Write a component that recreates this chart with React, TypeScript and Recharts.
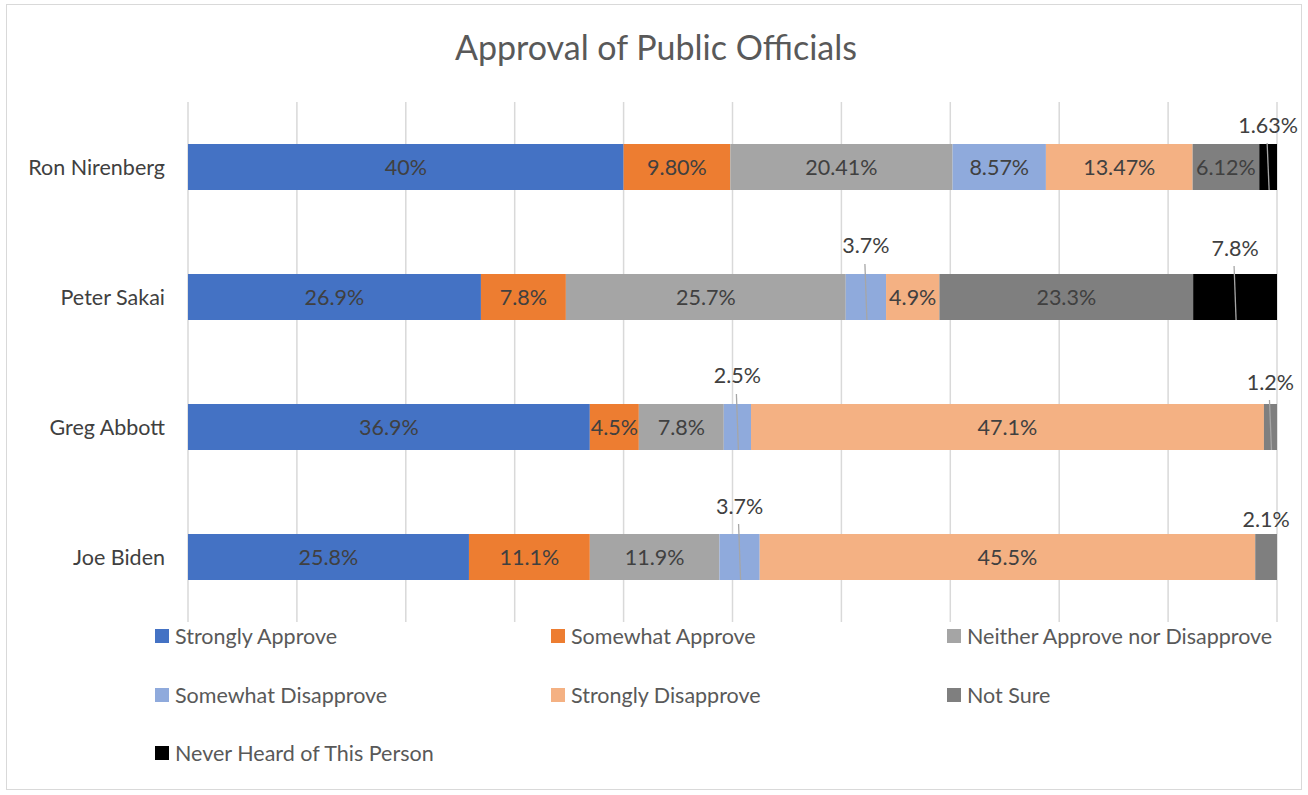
import { BarChart, Bar, XAxis, YAxis, CartesianGrid, LabelList } from 'recharts'

const categories = ['Ron Nirenberg', 'Peter Sakai', 'Greg Abbott', 'Joe Biden']

// values kept as strings so the label format of the source is preserved
const stronglyApprove = ['40', '26.9', '36.9', '25.8']
const somewhatApprove = ['9.80', '7.8', '4.5', '11.1']
const neitherApprove = ['20.41', '25.7', '7.8', '11.9']
const somewhatDisapprove = ['8.57', '3.7', '2.5', '3.7']
const stronglyDisapprove = ['13.47', '4.9', '47.1', '45.5']
const notSure = ['6.12', '23.3', '1.2', '2.1']
const neverHeard = ['1.63', '7.8', '', '']

const series = [
  { key: 's0', name: 'Strongly Approve', values: stronglyApprove, color: '#4472C4' },
  { key: 's1', name: 'Somewhat Approve', values: somewhatApprove, color: '#ED7D31' },
  { key: 's2', name: 'Neither Approve nor Disapprove', values: neitherApprove, color: '#A5A5A5' },
  { key: 's3', name: 'Somewhat Disapprove', values: somewhatDisapprove, color: '#8FAADC' },
  { key: 's4', name: 'Strongly Disapprove', values: stronglyDisapprove, color: '#F4B183' },
  { key: 's5', name: 'Not Sure', values: notSure, color: '#7F7F7F' },
  { key: 's6', name: 'Never Heard of This Person', values: neverHeard, color: '#000000' },
]

// labels that sit above the bar with a leader line: "categoryIndex|seriesKey" -> lift above bar top
const callouts: Record<string, number> = {
  '0|s6': 19,
  '1|s3': 29,
  '1|s6': 26,
  '2|s3': 29,
  '2|s5': 22,
  '3|s3': 28,
  '3|s5': 15,
}

const data = categories.map((name, i) => {
  const row: Record<string, string | number> = { name }
  series.forEach(s => {
    const v = s.values[i]
    row[s.key] = v === '' ? 0 : Number(v)
    row[s.key + 'Label'] = v === '' ? '' : v + '%'
  })
  return row
})

const FONT = 'Lato, "Open Sans", sans-serif'
const FS = 21.5

function makeLabel(seriesKey: string) {
  return (props: any) => {
    const vb = props.viewBox ?? props
    const x = Number(vb.x ?? props.x)
    const y = Number(vb.y ?? props.y)
    const w = Number(vb.width ?? props.width)
    const h = Number(vb.height ?? props.height)
    const { value, index } = props
    if (!value) return null
    const cx = x + w / 2
    const off = callouts[`${index}|${seriesKey}`]
    if (off !== undefined) {
      const ty = y - off
      return (
        <g>
          {off >= 18 && (
            <line x1={cx - 1} y1={Math.max(ty + 18, y - 10)} x2={cx + 1} y2={y + h} stroke="#A6A6A6" strokeWidth={1.3} />
          )}
          <text x={cx} y={ty} textAnchor="middle" dominantBaseline="central" fill="#404040" fontSize={FS} fontFamily={FONT}>
            {value}
          </text>
        </g>
      )
    }
    return (
      <text x={cx} y={y + h / 2} textAnchor="middle" dominantBaseline="central" fill="#404040" fontSize={FS} fontFamily={FONT}>
        {value}
      </text>
    )
  }
}

export default function App() {
  return (
    <div style={{ position: 'absolute', left: 0, top: 0, width: 1308, height: 795, background: '#fff', fontFamily: FONT }}>
      <div style={{ position: 'absolute', left: 6, top: 4, width: 1296, height: 786, border: '1px solid #D9D9D9', boxSizing: 'border-box' }} />
      <div style={{ position: 'absolute', left: 0, top: 26, width: 1312, textAlign: 'center', fontSize: 34, color: '#595959' }}>
        Approval of Public Officials
      </div>
      <div style={{ position: 'absolute', left: 0, top: 0 }}>
        <BarChart
          width={1308}
          height={625}
          data={data}
          layout="vertical"
          margin={{ top: 102, right: 31, left: 0, bottom: 3 }}
        >
          <CartesianGrid horizontal={false} stroke="#D9D9D9" strokeWidth={1.5} />
          <XAxis type="number" domain={[0, 100]} ticks={[0, 10, 20, 30, 40, 50, 60, 70, 80, 90, 100]} allowDataOverflow hide />
          <YAxis
            type="category"
            dataKey="name"
            width={188}
            axisLine={false}
            tickLine={false}
            tickSize={0}
            tickMargin={23}
            tick={{ fill: '#404040', fontSize: FS, fontFamily: FONT }}
          />
          {series.map(s => (
            <Bar key={s.key} dataKey={s.key} stackId="a" fill={s.color} barSize={46} isAnimationActive={false}>
              <LabelList dataKey={s.key + 'Label'} content={makeLabel(s.key)} />
            </Bar>
          ))}
        </BarChart>
      </div>
      {series.map((s, i) => {
        const col = i % 3
        const row = Math.floor(i / 3)
        return (
          <div
            key={s.key}
            style={{
              position: 'absolute',
              left: 155 + col * 396,
              top: 636 + row * 58.5 - 13,
              height: 26,
              display: 'flex',
              alignItems: 'center',
              fontSize: FS,
              color: '#595959',
              whiteSpace: 'nowrap',
            }}
          >
            <span style={{ display: 'inline-block', width: 14, height: 14, background: s.color, marginRight: 6 }} />
            {s.name}
          </div>
        )
      })}
    </div>
  )
}
